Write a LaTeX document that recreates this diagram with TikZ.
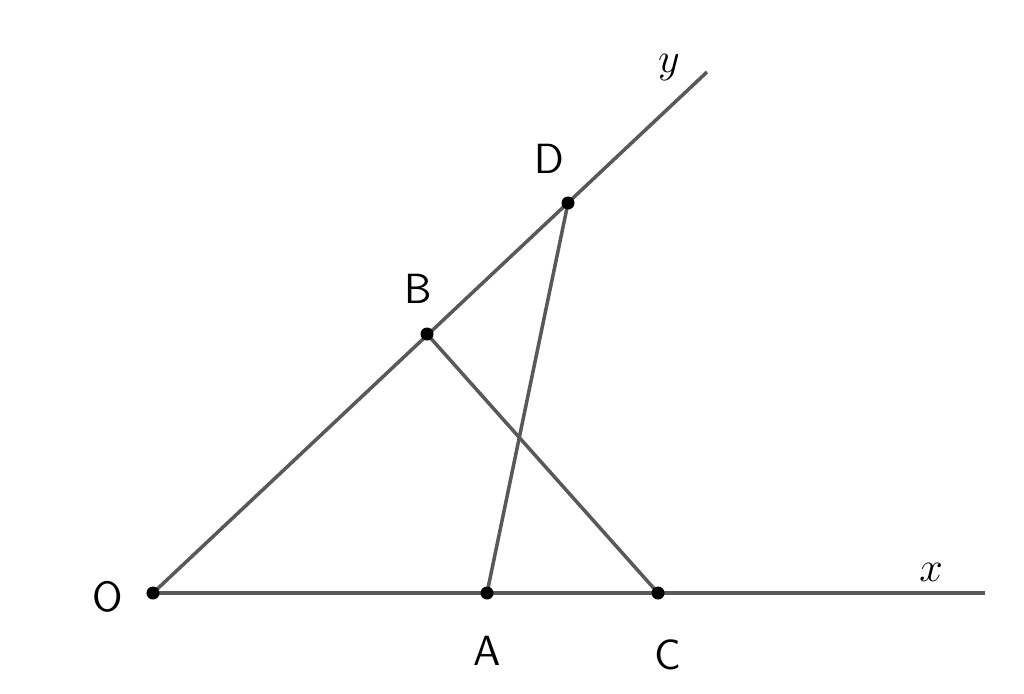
\documentclass[tikz,border=0pt]{standalone}
\usepackage{amsmath}
\usepackage{tikz}
\pgfdeclarelayer{background}
\pgfsetlayers{background,main}
\tikzset{every path/.style={line width=1pt}}
\tikzstyle{pt}=[circle,fill=black,draw=none,inner sep=0pt,minimum size=1.3mm]
\tikzstyle{lbl}=[inner sep=1pt,font=\sffamily\large]
\tikzstyle{seg}=[draw=black!65]

\begin{document}
\begin{tikzpicture}[x=0.01cm,y=-0.01cm]
	\useasboundingbox (0,0) rectangle (1024,694);
	\node at (153,593) [pt] (O) {};
	\node at (487,593) [pt] (A) {};
	\node at (658,593) [pt] (C) {};
	\node at (427,334) [pt] (B) {};
	\node at (568,203) [pt] (D) {};
	\coordinate (xend) at (985,593);
	\coordinate (yend) at (707,72);
	
	\node at (108,597) [lbl] (lO) {O};
	\node at (487,651) [lbl] (lA) {A};
	\node at (668,655) [lbl] (lC) {C};
	\node at (418,289) [lbl] (lB) {B};
	\node at (549,159) [lbl] (lD) {D};
	\node at (931,572) [inner sep=1pt,font=\large] (lx) {$x$};
	\node at (669,68) [inner sep=1pt,font=\large] (ly) {$y$};
	
	\begin{pgfonlayer}{background}
	\draw [seg] (O.center) -- (xend);
	\draw [seg] (O.center) -- (yend);
	\draw [seg] (B.center) -- (C.center);
	\draw [seg] (D.center) -- (A.center);
	\end{pgfonlayer}
\end{tikzpicture}
\end{document}
